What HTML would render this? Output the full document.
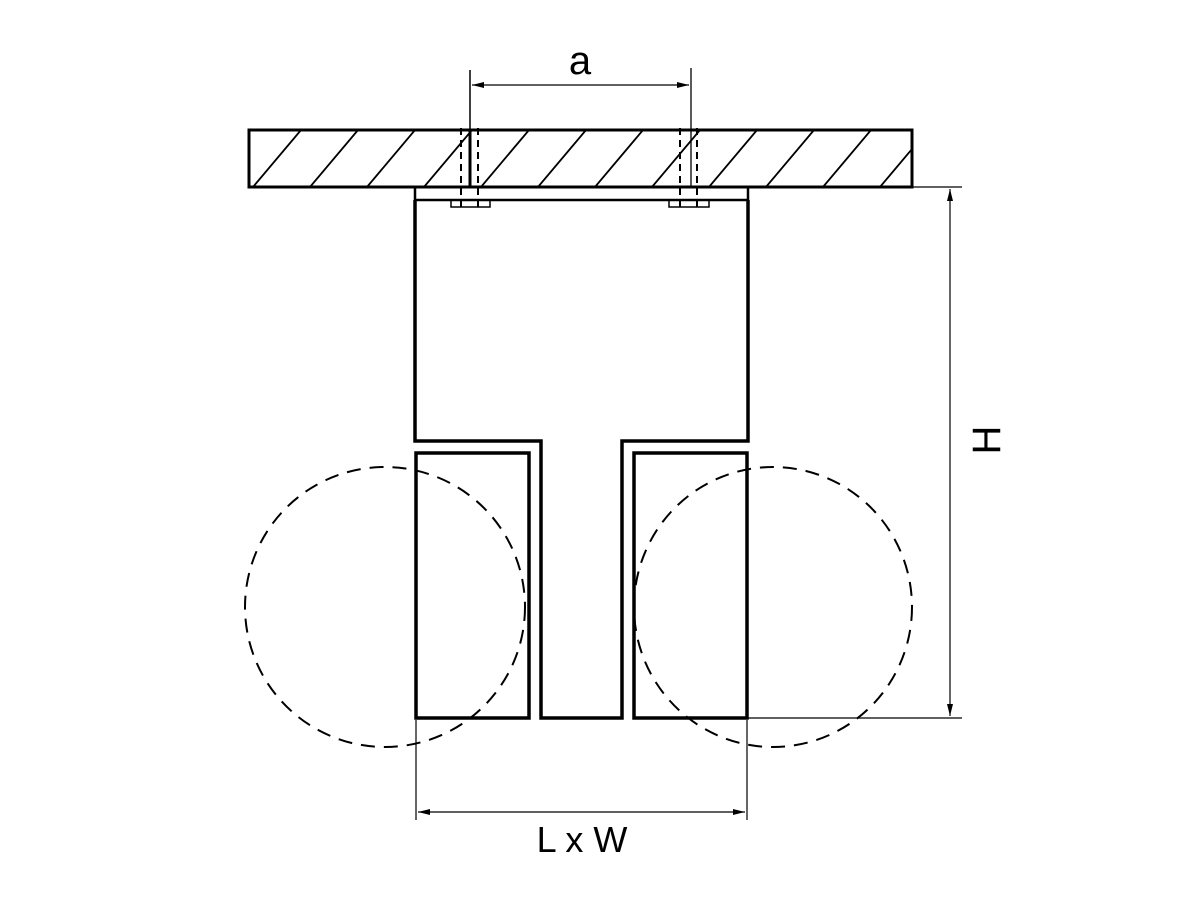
<!DOCTYPE html>
<html><head><style>body{margin:0;background:#fff}svg{display:block}</style></head>
<body>
<svg width="1200" height="900" viewBox="0 0 1200 900" xmlns="http://www.w3.org/2000/svg">
<defs>
<clipPath id="c"><rect x="249" y="130" width="663" height="57"/></clipPath>
<marker id="ar" viewBox="0 0 12 6" refX="12" refY="3" markerWidth="12" markerHeight="6" orient="auto-start-reverse" markerUnits="userSpaceOnUse"><path d="M0,0 L12,3 L0,6 z" fill="#000"/></marker>
</defs>
<g stroke="#000" fill="none">
<rect x="249" y="130" width="663" height="57" stroke-width="3"/>
<g clip-path="url(#c)" stroke-width="1.8">
<path d="M196,187 L244,130 M253,187 L301,130 M310,187 L358,130 M367,187 L415,130 M424,187 L472,130 M481,187 L529,130 M538,187 L586,130 M595,187 L643,130 M652,187 L700,130 M709,187 L757,130 M766,187 L814,130 M823,187 L871,130 M880,187 L928,130 M937,187 L985,130"/>
</g>
<rect x="415" y="187" width="333" height="13" stroke-width="2.5"/>
<path d="M415,200 L415,441 L541,441 L541,718 L622,718 L622,441 L748,441 L748,200" stroke-width="3.5"/>
<rect x="416" y="453" width="113" height="265" stroke-width="3.5"/>
<rect x="634" y="453" width="113" height="265" stroke-width="3.5"/>
<rect x="451" y="200" width="39" height="7" stroke-width="1.5"/>
<rect x="669" y="200" width="40" height="7" stroke-width="1.5"/>
<g stroke-width="2" stroke-dasharray="7,5">
<path d="M461,128 V208 M478,128 V208 M680,128 V208 M697,128 V208"/>
</g>
<g stroke-width="2" stroke-dasharray="14,9">
<ellipse cx="385" cy="607" rx="140" ry="140"/>
<ellipse cx="773" cy="607" rx="139" ry="140"/>
</g>
<path d="M470,70 V187" stroke-width="1.5"/>
<path d="M470,130 V187" stroke-width="3"/>
<path d="M691,68 V187" stroke-width="1.3"/>
<path d="M472,85 H689" stroke-width="1.2" marker-start="url(#ar)" marker-end="url(#ar)"/>
<path d="M748,187 H962 M748,718 H962 M416,720 V820 M747,720 V820" stroke-width="1.2"/>
<path d="M950,189 V716" stroke-width="1.2" marker-start="url(#ar)" marker-end="url(#ar)"/>
<path d="M418,812 H745" stroke-width="1.2" marker-start="url(#ar)" marker-end="url(#ar)"/>
</g>
<text x="580" y="74" font-family="Liberation Sans, sans-serif" font-size="40" text-anchor="middle">a</text>
<text x="0" y="0" transform="translate(1000,440) rotate(-90)" font-family="Liberation Sans, sans-serif" font-size="40" text-anchor="middle">H</text>
<text x="582" y="852" font-family="Liberation Sans, sans-serif" font-size="36" text-anchor="middle">L x W</text>
</svg>
</body></html>
